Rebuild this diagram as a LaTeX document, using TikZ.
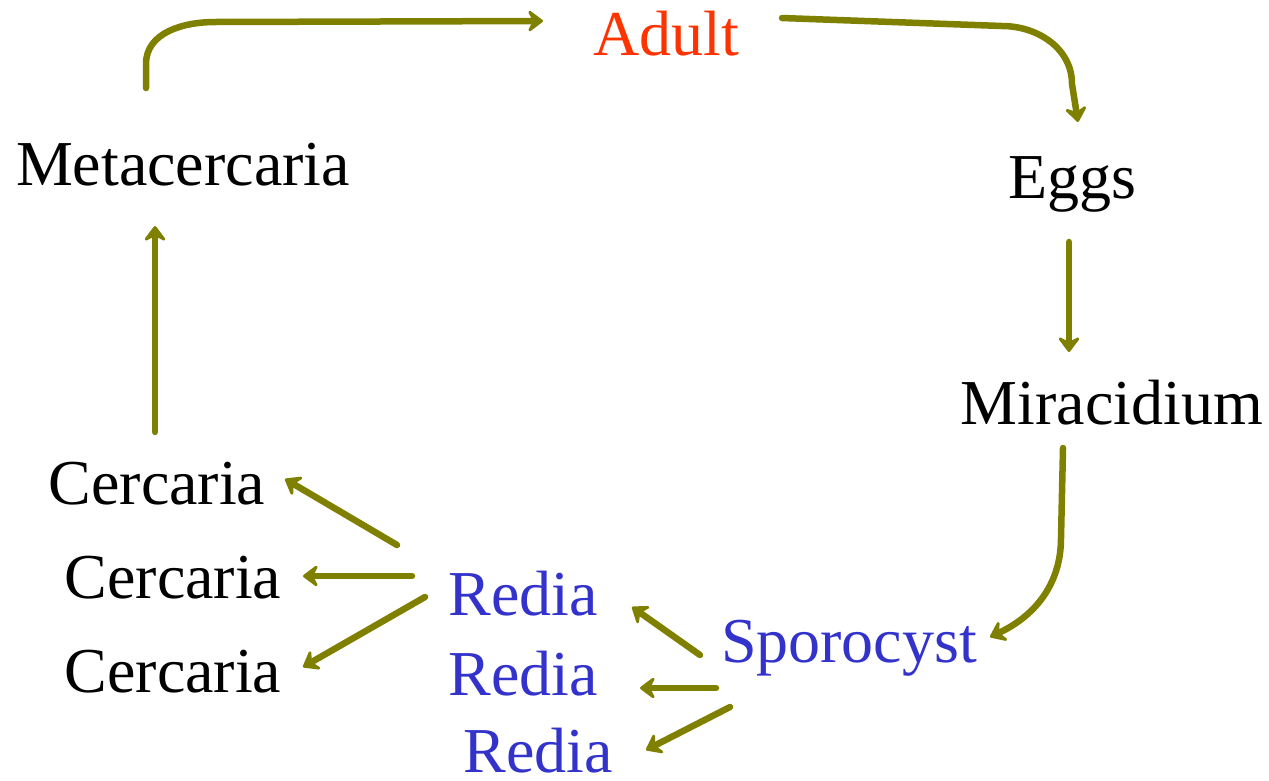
\documentclass[tikz,border=0pt]{standalone}
\usepackage{fontspec}
\setmainfont{Liberation Serif}
\usetikzlibrary{arrows.meta}

\definecolor{olivearrow}{RGB}{128,128,0}
\definecolor{adultred}{RGB}{255,51,0}
\definecolor{hostblue}{RGB}{51,51,204}

\tikzset{
  stage/.style={anchor=base, inner sep=0pt, font=\fontsize{64}{64}\selectfont},
  lifearrow/.style={draw=olivearrow, line width=6.5pt, line cap=round,
    -{Stealth[length=18pt,width=27pt,inset=7pt,round]}}
}

\begin{document}
\begin{tikzpicture}[x=1pt,y=-1pt]
      \useasboundingbox (0,0) rectangle (1269,780);

       % stages
      \node[stage, adultred] (adult) at (666,55) {Adult};
      \node[stage] (meta) at (183,185) {Metacercaria};
      \node[stage] (eggs) at (1072,198) {Eggs};
      \node[stage] (mira) at (1112,424) {Miracidium};
      \node[stage, hostblue] (spor) at (849,662) {Sporocyst};

       % redia
      \node[stage, hostblue] (redA) at (523,615) {Redia};
      \node[stage, hostblue] (redB) at (523,695) {Redia};
      \node[stage, hostblue] (redC) at (538,772) {Redia};

       % cercaria
      \node[stage] (cerA) at (157,504) {Cercaria};
      \node[stage] (cerB) at (173,598) {Cercaria};
      \node[stage] (cerC) at (173,692) {Cercaria};

       % top loop
      \draw[lifearrow] ([shift={(-37,-97)}]meta.base) -- ++(0,-24)
            to[out=90,in=180] ++(69,-42) -- ([shift={(-123,-34)}]adult.base);
      \draw[lifearrow] ([shift={(116,-37)}]adult.base) -- ++(220,8)
            to[out=0,in=90] ++(70,58) -- ([shift={(6,-76)}]eggs.base);

       % right side
      \draw[lifearrow] ([shift={(-3,44)}]eggs.base) -- ([shift={(-43,-72)}]mira.base);
      \draw[lifearrow] ([shift={(-49,24)}]mira.base) -- ++(-2,90)
            to[out=-90,in=25] ([shift={(141,-25)}]spor.base);

       % sporocyst -> redia
      \draw[lifearrow] ([shift={(-149,-7)}]spor.base) -- ([shift={(109,-8)}]redA.base);
      \draw[lifearrow] ([shift={(-133,26)}]spor.base) -- ([shift={(117,-7)}]redB.base);
      \draw[lifearrow] ([shift={(-119,45)}]spor.base) -- ([shift={(108,-22)}]redC.base);

       % redia -> cercaria
      \draw[lifearrow] ([shift={(-126,-70)}]redA.base) -- ([shift={(128,-25)}]cerA.base);
      \draw[lifearrow] ([shift={(-111,-39)}]redA.base) -- ([shift={(130,-22)}]cerB.base);
      \draw[lifearrow] ([shift={(-98,-18)}]redA.base) -- ([shift={(130,-25)}]cerC.base);

       % left side
      \draw[lifearrow] ([shift={(-2,-72)}]cerA.base) -- ([shift={(-28,41)}]meta.base);
    \end{tikzpicture}
\end{document}
